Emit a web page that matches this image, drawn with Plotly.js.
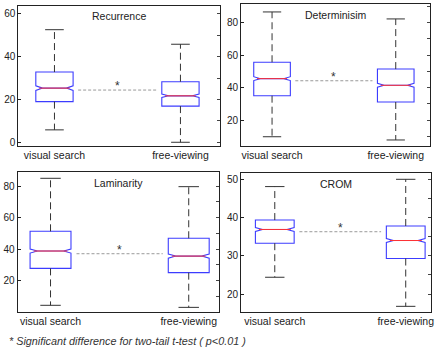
<!DOCTYPE html>
<html>
<head>
<meta charset="utf-8">
<script src="https://cdn.plot.ly/plotly-3.0.1.min.js"></script>
<style>
  html, body { margin: 0; padding: 0; background: #fff; }
  #chart { width: 436px; height: 348px; }
</style>
</head>
<body>
<div id="chart"></div>
<script>
// ---- data ----
const categories = ['visual search', 'free-viewing'];
const positions = [1, 2];
const panelTitles = ['Recurrence', 'Determinisim', 'Laminarity', 'CROM'];

const recLow   = [5.8, 0.0];
const recQ1    = [19.0, 16.9];
const recMed   = [25.3, 21.7];
const recQ3    = [32.8, 28.3];
const recHigh  = [52.6, 45.8];
const recNotch = [1.1, 0.8];
const recSig   = 24.4;

const detLow   = [9.7, 7.7];
const detQ1    = [35.0, 31.1];
const detMed   = [45.5, 41.4];
const detQ3    = [55.6, 51.4];
const detHigh  = [86.6, 82.3];
const detNotch = [1.2, 1.2];
const detSig   = 44.2;

const lamLow   = [4.4, 3.1];
const lamQ1    = [27.8, 25.1];
const lamMed   = [38.8, 35.6];
const lamQ3    = [51.3, 46.9];
const lamHigh  = [84.9, 79.6];
const lamNotch = [1.3, 1.3];
const lamSig   = 37.1;

const cromLow   = [24.4, 16.8];
const cromQ1    = [33.3, 29.3];
const cromMed   = [36.9, 34.0];
const cromQ3    = [39.35, 37.8];
const cromHigh  = [48.1, 50.0];
const cromNotch = [0.5, 0.5];
const cromSig   = 36.3;

const yTickVals = [[0, 20, 40, 60], [20, 40, 60, 80], [20, 40, 60, 80], [20, 30, 40, 50]];
const footnote = '* Significant difference for two-tail t-test ( p<0.01 )';

// ---- styling / layout config ----
const panels = [
  {low: recLow, q1: recQ1, med: recMed, q3: recQ3, high: recHigh, notch: recNotch, sig: recSig},
  {low: detLow, q1: detQ1, med: detMed, q3: detQ3, high: detHigh, notch: detNotch, sig: detSig},
  {low: lamLow, q1: lamQ1, med: lamMed, q3: lamQ3, high: lamHigh, notch: lamNotch, sig: lamSig},
  {low: cromLow, q1: cromQ1, med: cromMed, q3: cromQ3, high: cromHigh, notch: cromNotch, sig: cromSig}
];
const W = 436, H = 348;
const geom = [
  {x: [18.3, 219.5], y: [5.5, 145.7], xr: [0.713, 2.31], yr: [-1.6, 63.9], minor: 10},
  {x: [241, 430],    y: [4, 145.5],   xr: [0.749, 2.277], yr: [4.3, 91.5], minor: 10},
  {x: [17.5, 219],   y: [172.3, 311.7], xr: [0.761, 2.219], yr: [0.35, 88.7], minor: 10},
  {x: [241, 431],    y: [173, 311.7], xr: [0.742, 2.193], yr: [15.4, 51.65], minor: 5}
];
const boxW = 0.296;
const notchW = 0.18;
const FONT = 'Liberation Sans, Arial, Helvetica, sans-serif';
const blue = 'rgb(60,60,255)';

const traces = [];
const layout = {
  width: W, height: H,
  margin: {l: 0, r: 0, t: 0, b: 0},
  paper_bgcolor: '#fff', plot_bgcolor: '#fff',
  showlegend: false,
  font: {family: FONT, size: 10, color: '#222'},
  annotations: []
};

panels.forEach((p, k) => {
  const n = k + 1;
  const xa = n === 1 ? 'x' : 'x' + n;
  const ya = n === 1 ? 'y' : 'y' + n;
  const yr = 'y' + (n + 4);
  const g = geom[k];
  const hw = boxW / 2;

  // box outline (whiskers drawn separately)
  traces.push({
    type: 'box', xaxis: xa, yaxis: ya,
    x: positions, q1: p.q1, median: p.med, q3: p.q3,
    lowerfence: p.q1, upperfence: p.q3,
    notched: true, notchspan: p.notch, notchwidth: notchW,
    width: boxW, whiskerwidth: 0, boxpoints: false,
    line: {color: blue, width: 1.1}, fillcolor: 'rgba(0,0,0,0)',
    hoverinfo: 'skip'
  });

  const wx = [], wy = [], cx = [], cy = [], mx = [], my = [];
  positions.forEach((c, i) => {
    wx.push(c, c, null, c, c, null);
    wy.push(p.q3[i], p.high[i], null, p.q1[i], p.low[i], null);
    cx.push(c - hw / 2, c + hw / 2, null, c - hw / 2, c + hw / 2, null);
    cy.push(p.high[i], p.high[i], null, p.low[i], p.low[i], null);
    mx.push(c - hw * (1 - notchW), c + hw * (1 - notchW), null);
    my.push(p.med[i], p.med[i], null);
  });
  traces.push({type: 'scatter', mode: 'lines', xaxis: xa, yaxis: ya, x: wx, y: wy,
    line: {color: '#333', width: 1, dash: '7px,4px'}, hoverinfo: 'skip'});
  traces.push({type: 'scatter', mode: 'lines', xaxis: xa, yaxis: ya, x: cx, y: cy,
    line: {color: '#333', width: 1}, hoverinfo: 'skip'});
  traces.push({type: 'scatter', mode: 'lines', xaxis: xa, yaxis: ya, x: mx, y: my,
    line: {color: 'rgb(255,50,50)', width: 1}, hoverinfo: 'skip'});
  // significance connector
  const gap = 0.04;
  traces.push({type: 'scatter', mode: 'lines', xaxis: xa, yaxis: ya,
    x: [positions[0] + hw + gap, positions[1] - hw - gap], y: [p.sig, p.sig],
    line: {color: '#999', width: 1, dash: '3px,2px'}, hoverinfo: 'skip'});
  // invisible trace on right overlay axis so it gets drawn
  traces.push({type: 'scatter', mode: 'lines', xaxis: xa, yaxis: yr,
    x: positions, y: [p.sig, p.sig], line: {width: 0, color: 'rgba(0,0,0,0)'},
    hoverinfo: 'skip'});

  const xd = [g.x[0] / W, g.x[1] / W];
  const yd = [1 - g.y[1] / H, 1 - g.y[0] / H];
  layout['xaxis' + (n === 1 ? '' : n)] = {
    domain: xd, range: g.xr, anchor: ya,
    tickvals: positions, ticktext: categories, ticks: '',
    showline: true, mirror: true, linecolor: '#222', linewidth: 1,
    showgrid: false, zeroline: false, fixedrange: true,
    tickfont: {family: FONT, size: 10.5, color: '#222'}
  };
  layout['yaxis' + (n === 1 ? '' : n)] = {
    domain: yd, range: g.yr, anchor: xa,
    tickvals: yTickVals[k], ticks: 'inside', ticklen: 3, tickcolor: '#222',
    showline: true, mirror: true, linecolor: '#222', linewidth: 1,
    showgrid: false, zeroline: false, fixedrange: true,
    tickfont: {family: FONT, size: 10, color: '#222'}
  };
  layout['yaxis' + (n + 4)] = {
    overlaying: ya, side: 'right', anchor: xa, range: g.yr,
    dtick: g.minor, tick0: 0, ticks: 'inside', ticklen: 3, tickcolor: '#444',
    showticklabels: false, showline: false, showgrid: false, zeroline: false, fixedrange: true
  };

  layout.annotations.push({
    xref: xa + ' domain', yref: ya + ' domain', x: 0.5, y: 1, yanchor: 'top', yshift: -3,
    text: panelTitles[k], showarrow: false, font: {family: FONT, size: 10.5, color: '#222'}
  });
  layout.annotations.push({
    xref: xa, yref: ya, x: (positions[0] + positions[1]) / 2, y: p.sig,
    yanchor: 'bottom', yshift: -5,
    text: '*', showarrow: false, font: {family: FONT, size: 12, color: '#333'}
  });
});

layout.annotations.push({
  xref: 'paper', yref: 'paper', x: 7 / W, y: 1 - 341 / H, xanchor: 'left', yanchor: 'middle',
  text: '<i>' + footnote + '</i>', showarrow: false,
  font: {family: FONT, size: 10.8, color: '#333'}
});

Plotly.newPlot('chart', traces, layout, {displayModeBar: false, staticPlot: true});
</script>
</body>
</html>
